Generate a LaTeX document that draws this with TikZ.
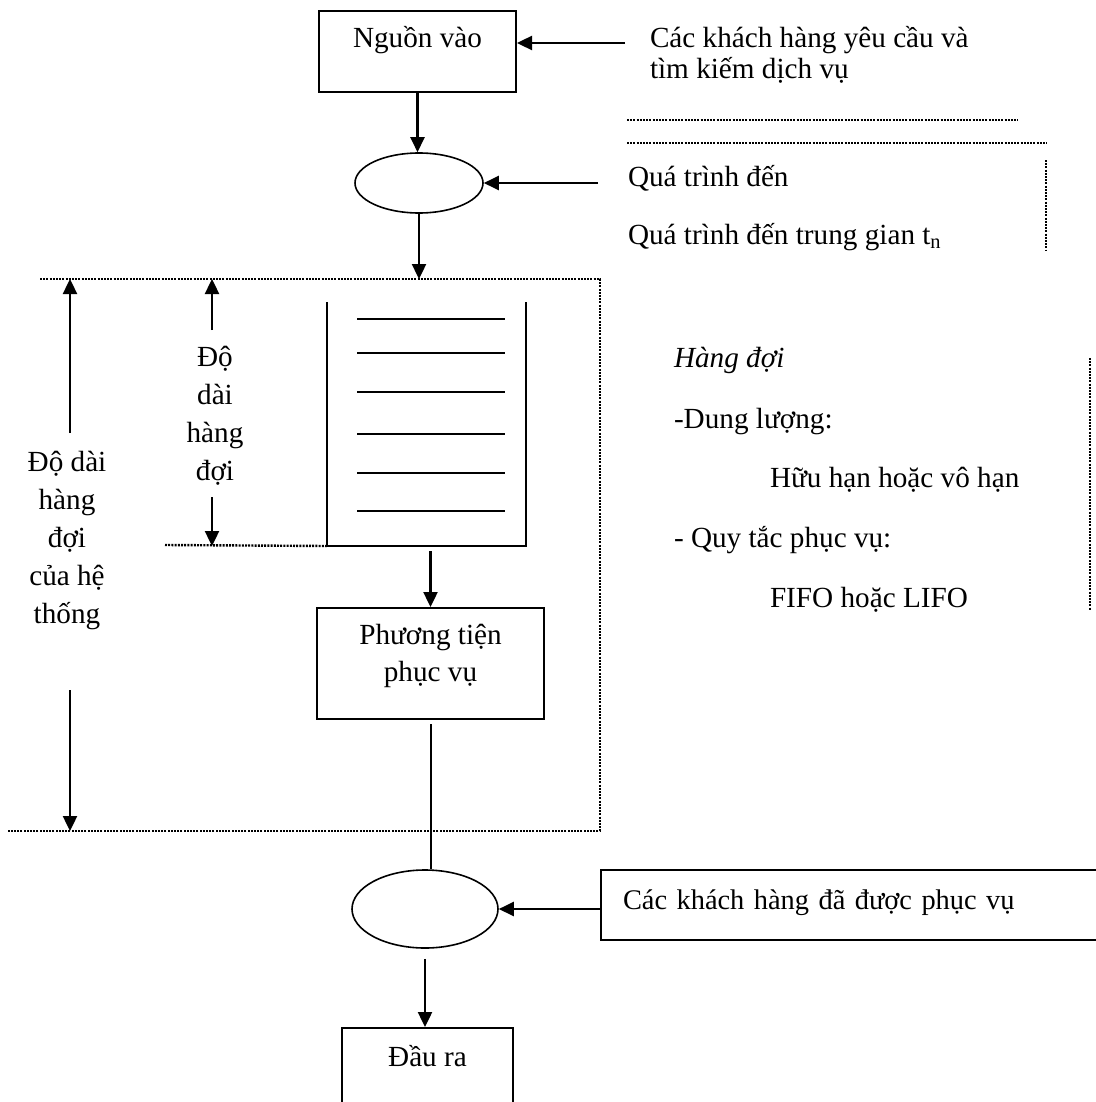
\documentclass[tikz,border=0pt]{standalone}
\usepackage{fontspec}
\setmainfont{Liberation Serif}
\usetikzlibrary{positioning,shapes.geometric,arrows.meta}

\begin{document}
\begin{tikzpicture}[x=0.5pt, y=-0.5pt, line width=1pt, font=\fontsize{14.6}{19}\selectfont,
	box/.style={draw, rectangle, inner sep=0pt, align=center},
	oval/.style={draw, ellipse, inner sep=0pt, line width=0.8pt},
	txt/.style={inner sep=0pt, anchor=base west, align=left},
	lbl/.style={inner sep=0pt, anchor=base, align=center},
	arr/.style={line width=1.2pt, -{Triangle[length=7.5pt,width=7pt]}},
	dots/.style={line width=1.2pt, dash pattern=on 1pt off 0.6pt}]
	\useasboundingbox (0,0) rectangle (1096,1102);
	\clip (0,0) rectangle (1096,1102);
	% main column
	\node[box, anchor=north west, minimum width=98.5pt, text height=18.5pt, text depth=22pt] (src) at (318,10) {Nguồn vào};
	\node[oval, minimum width=64pt, minimum height=30pt] (arrive) at (419,183) {};
	\node[minimum width=98.5pt, minimum height=121pt, inner sep=0pt] (queue) at (426.5,424) {};
	\node[box, anchor=north, minimum width=113.5pt, font=\fontsize{14.6}{18.5}\selectfont, text height=36.5pt, text depth=19pt] (server) at (430.5,607) {Phương tiện\\phục vụ};
	\node[oval, minimum width=73pt, minimum height=39pt] (depart) at (425,909) {};
	\node[box, anchor=north, minimum width=85.5pt, text height=19pt, text depth=60pt] (out) at (427.5,1027) {Đầu ra};
	% right side
	\node[txt, font=\fontsize{14.6}{15.5}\selectfont] (cust) at (649,79) {Các khách hàng yêu cầu và\\tìm kiếm dịch vụ};
	\node[txt] (proc) at (627,186) {Quá trình đến};
	\node[txt] (proc2) at (627,244) {Quá trình đến trung gian t\textsubscript{n}};
	\node[txt] (qhead) at (673,367) {\itshape Hàng đợi};
	\node[txt] (cap) at (673,428) {-Dung lượng:};
	\node[txt] (capv) at (769,487) {Hữu hạn hoặc vô hạn};
	\node[txt] (rule) at (673,547) {- Quy tắc phục vụ:};
	\node[txt] (rulev) at (769,607) {FIFO hoặc LIFO};
	\node[box, anchor=north west, text width=240pt, align=left, inner xsep=11pt, text height=19.5pt, text depth=15.5pt, font=\fontsize{14.2}{19}\selectfont] (served) at (600,869) {Các khách hàng đã được phục vụ};
	% left labels
	\node[lbl] (qlen) at (215,480) {Độ\\dài\\hàng\\đợi};
	\node[lbl] (syslen) at (67,623) {Độ dài\\hàng\\đợi\\của hệ\\thống};
	\coordinate (srcin) at (625,43);
	\coordinate (arrivein) at (598,183);
	\coordinate (sysNW) at (40,279);
	\coordinate (sysNE) at (600,279);
	\coordinate (sysSE) at (600,831);
	\coordinate (sysSW) at (8,831);
	\coordinate (qa) at (212,330);
	\coordinate (qb) at (212,497);
	\coordinate (sa) at (70,433);
	\coordinate (sb) at (70,690);
	% queue
	\draw (queue.north west) -- (queue.south west) -- (queue.south east) -- (queue.north east);
	\foreach \y in {319,353,392,434,473,511}
		\draw (357,\y) -- (505,\y);
	% dotted frames
	\draw[dots] (sysNW) -- (sysNE) -- (sysSE) -- (sysSW);
	\draw[dots] (165,545) -- (queue.south west);
	\draw[dots] (627,120) -- (1018,120);
	\draw[dots] (627,143) -- (1047,143);
	\draw[dots] (1046,160) -- (1046,250);
	\draw[dots] (1090,358) -- (1090,610);
	% connectors
	\draw[arr] (srcin) -- (src.east |- srcin);
	\draw[arr] (src.south) -- (src.south |- arrive.north);
	\draw[arr] (arrivein) -- (arrive.east);
	\draw[arr] (arrive.south) -- (arrive.south |- sysNW);
	\draw[arr, shorten <=2.5pt] (queue.south -| server.north) -- (server.north);
	\draw[shorten <=2pt] (server.south) -- (server.south |- depart.north);
	\draw[arr] (served.west |- depart) -- (depart.east);
	\draw[arr, shorten <=5pt] (depart.south) -- (depart.south |- out.north);
	\draw[arr] (qa) -- (qa |- sysNW);
	\draw[arr] (qb) -- (qb |- queue.south);
	\draw[arr] (sa) -- (sa |- sysNW);
	\draw[arr] (sb) -- (sb |- sysSW);
\end{tikzpicture}
\end{document}
